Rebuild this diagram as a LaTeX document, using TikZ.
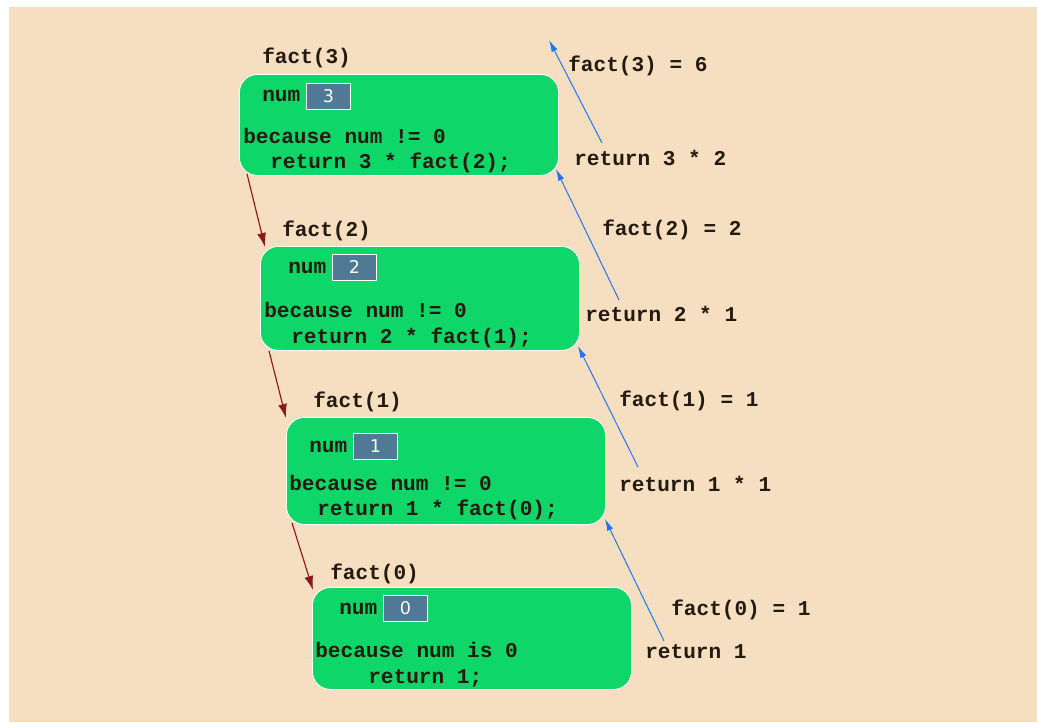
\documentclass[tikz,border=0pt]{standalone}
\usepackage{fontspec}
\newfontfamily\codefont{Liberation Mono}
\newfontfamily\valfont{DejaVu Sans}
\usetikzlibrary{arrows.meta, positioning, calc}

\definecolor{paper}{RGB}{246,222,192}
\definecolor{framegreen}{RGB}{14,214,104}
\definecolor{slotblue}{RGB}{79,121,148}
\definecolor{ink}{RGB}{35,26,16}
\definecolor{callred}{RGB}{140,24,24}
\definecolor{retblue}{RGB}{30,118,255}

\tikzset{
  framebox/.style={draw=white, line width=0.6pt, fill=framegreen,
    rounded corners=0.45cm, minimum width=7.975cm, anchor=north west, inner sep=0pt},
  codetext/.style={anchor=base west, inner sep=0pt, text=ink,
    font=\codefont\bfseries\fontsize{15}{18}\selectfont},
  slotbox/.style={draw=white, line width=0.6pt, fill=slotblue, minimum width=1.1cm,
    minimum height=0.65cm, anchor=north west, inner sep=0pt, text=white,
    font=\valfont\fontsize{12.5}{14}\selectfont},
  callarrow/.style={draw=callred, line width=0.8pt, -{Latex[length=3.5mm,width=2.2mm]}},
  retarrow/.style={draw=retblue, line width=0.7pt, -{Latex[length=3mm,width=1.6mm]}},
}

\begin{document}
\begin{tikzpicture}[x=0.025cm, y=-0.025cm]
  \useasboundingbox (0,0) rectangle (1037,722);
  \fill[paper] (9,7) rectangle (1037,722);

  % activation frames
  \node[framebox, minimum height=2.525cm] (f3) at (239,74) {};
  \node[framebox, minimum height=2.6cm] (f2) at (260,246) {};
  \node[framebox, minimum height=2.675cm] (f1) at (286,417) {};
  \node[framebox, minimum height=2.55cm] (f0) at (312,587) {};

  % fact(3)
  \node[codetext] (c3) at (262,64) {fact(3)};
  \node[codetext] (m3) at (262,102) {num};
  \node[slotbox] (v3) at (306,83) {3};
  \node[codetext] (w3) at (243,144) {because num != 0};
  \node[codetext] (r3) at (270,169) {return 3 * fact(2);};

  % fact(2)
  \node[codetext] (c2) at (282,236) {fact(2)};
  \node[codetext] (m2) at (288,273) {num};
  \node[slotbox] (v2) at (332,254) {2};
  \node[codetext] (w2) at (264,317) {because num != 0};
  \node[codetext] (r2) at (291,343) {return 2 * fact(1);};

  % fact(1)
  \node[codetext] (c1) at (313,407) {fact(1)};
  \node[codetext] (m1) at (309,452) {num};
  \node[slotbox] (v1) at (353,433) {1};
  \node[codetext] (w1) at (289,490) {because num != 0};
  \node[codetext] (r1) at (317,515) {return 1 * fact(0);};

  % fact(0)
  \node[codetext] (c0) at (330,579) {fact(0)};
  \node[codetext] (m0) at (339,614) {num};
  \node[slotbox] (v0) at (383,595) {0};
  \node[codetext] (w0) at (315,657) {because num is 0};
  \node[codetext] (r0) at (368,683) {return 1;};

  % returned values
  \node[codetext] (e3) at (568,72) {fact(3) = 6};
  \node[codetext] (p3) at (574,166) {return 3 * 2};
  \node[codetext] (e2) at (602,235) {fact(2) = 2};
  \node[codetext] (p2) at (585,321) {return 2 * 1};
  \node[codetext] (e1) at (619,406) {fact(1) = 1};
  \node[codetext] (p1) at (619,491) {return 1 * 1};
  \node[codetext] (e0) at (671,615) {fact(0) = 1};
  \node[codetext] (p0) at (645,658) {return 1};

  % calls going down
  \draw[callarrow] ($(f3.south west)+(8,-2)$) -- ($(f2.north west)+(5,1)$);
  \draw[callarrow] ($(f2.south west)+(9,0)$) -- ($(f1.north west)+(0,1)$);
  \draw[callarrow] ($(f1.south west)+(6,-2)$) -- ($(f0.north west)+(1,3)$);

  % values going back up
  \coordinate (top) at (549,40);
  \coordinate (s3) at (602,143);
  \coordinate (s2) at (619,300);
  \coordinate (s1) at (638,467);
  \coordinate (s0) at (664,641);
  \draw[retarrow] (s3) -- (top);
  \draw[retarrow] (s2) -- ($(f3.south east)+(-3,-7)$);
  \draw[retarrow] (s1) -- ($(f2.south east)+(-2,-5)$);
  \draw[retarrow] (s0) -- ($(f1.south east)+(-1,-6)$);

\end{tikzpicture}
\end{document}
